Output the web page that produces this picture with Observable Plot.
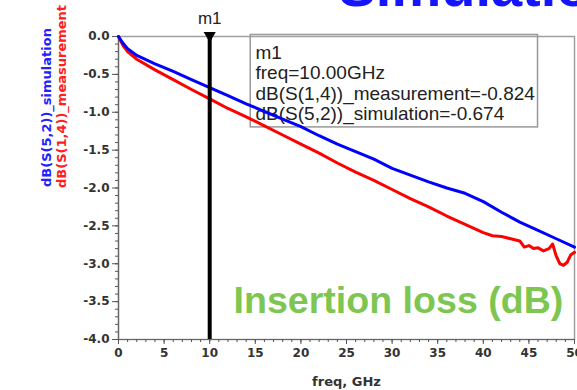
<!DOCTYPE html>
<html>
<head>
<meta charset="utf-8">
<script src="https://cdn.jsdelivr.net/npm/d3@7"></script>
<script src="https://cdn.jsdelivr.net/npm/@observablehq/plot@0.6"></script>
<style>
  html, body { margin: 0; padding: 0; background: #fff; }
  #chart svg { display: block; }
</style>
</head>
<body>
<div id="chart"></div>
<script>
// ---- data ----
const simFreq = [0, 0.5, 1, 2, 4, 6, 8, 10, 12, 14, 16, 18, 20, 22, 24, 26, 28, 30, 32, 34, 36, 38, 40, 42, 44, 46, 48, 50];
const simDb   = [0, -0.09, -0.16, -0.25, -0.36, -0.46, -0.57, -0.674, -0.78, -0.89, -0.99, -1.09, -1.19, -1.31, -1.42, -1.52, -1.62, -1.74, -1.83, -1.92, -2.00, -2.07, -2.18, -2.32, -2.45, -2.56, -2.67, -2.78];

const measFreq = [0, 0.5, 1, 2, 4, 6, 8, 10, 12, 14, 16, 18, 20, 22, 24, 26, 28, 30, 32, 34, 36, 38, 40, 41, 42, 43, 44, 44.5, 45, 45.5, 46, 46.6, 47.2, 47.6, 48, 48.4, 48.8, 49.2, 49.6, 50];
const measDb   = [0, -0.12, -0.20, -0.30, -0.44, -0.57, -0.70, -0.824, -0.95, -1.06, -1.18, -1.30, -1.42, -1.54, -1.67, -1.79, -1.90, -2.02, -2.14, -2.25, -2.37, -2.48, -2.59, -2.63, -2.64, -2.67, -2.70, -2.78, -2.76, -2.80, -2.79, -2.83, -2.80, -2.74, -2.90, -3.00, -3.02, -2.98, -2.88, -2.85];

const xTicks = [0, 5, 10, 15, 20, 25, 30, 35, 40, 45, 50];
const xTickLabels = ["0", "5", "10", "15", "20", "25", "30", "35", "40", "45", "50"];
const xMinorTicks = d3.range(0, 51, 1);
const yTicks = [0, -0.5, -1, -1.5, -2, -2.5, -3, -3.5, -4];
const yTickLabels = ["0.0", "-0.5", "-1.0", "-1.5", "-2.0", "-2.5", "-3.0", "-3.5", "-4.0"];
const yMinorTicks = d3.range(0, 41, 1).map(i => -i / 10);

const markerName = "m1";
const markerFreq = [10];
const markerMeas = -0.824;
const markerSim = -0.674;

const titleText = "Simulation";
const bannerText = "Insertion loss (dB)";
const xLabel = "freq, GHz";
const ySimLabel = "dB(S(5,2))_simulation";
const yMeasLabel = "dB(S(1,4))_measurement";

// ---- build tables ----
const sim = simFreq.map((f, i) => ({f, v: simDb[i]}));
const meas = measFreq.map((f, i) => ({f, v: measDb[i]}));
const markerLines = [
  markerName,
  `freq=${markerFreq[0].toFixed(2)}GHz`,
  `dB(S(1,4))_measurement=${markerMeas.toFixed(3)}`,
  `dB(S(5,2))_simulation=${markerSim.toFixed(3)}`
];

const tickFont = {fontFamily: "DejaVu Sans", fontWeight: "bold", fontSize: 12, fill: "#333"};

const chart = Plot.plot({
  width: 577,
  height: 390,
  marginLeft: 118,
  marginRight: 3,
  marginTop: 36,
  marginBottom: 51,
  x: {domain: [0, 50]},
  y: {domain: [-4, 0]},
  style: {background: "#fff", overflow: "visible"},
  marks: [
    // clipped title at top
    Plot.text([titleText], {frameAnchor: "top-left", dx: 220, dy: -31, textAnchor: "start", lineAnchor: "bottom",
      fontFamily: "Liberation Sans", fontWeight: "bold", fontSize: 56, fill: "#1414ff"}),
    // frame
    Plot.frame({stroke: "#a0a0a0", strokeWidth: 1.5}),
    Plot.ruleX([0], {stroke: "#666", strokeWidth: 1.2}),
    Plot.ruleY([-4], {stroke: "#666", strokeWidth: 1.2}),
    // minor ticks
    Plot.axisX(xMinorTicks, {anchor: "bottom", tickSize: 3, stroke: "#555", fill: "none", label: null}),
    Plot.axisY(yMinorTicks, {anchor: "left", tickSize: 3, stroke: "#555", fill: "none", label: null}),
    // major ticks + labels
    Plot.axisX(xTicks, {anchor: "bottom", tickSize: 5, tickPadding: 4, stroke: "#555",
      tickFormat: (d) => xTickLabels[xTicks.indexOf(d)], label: null, ...tickFont}),
    Plot.axisY(yTicks, {anchor: "left", tickSize: 6, tickPadding: 3, stroke: "#555",
      tickFormat: (d) => yTickLabels[yTicks.indexOf(d)], label: null, ...tickFont}),
    // axis titles
    Plot.text([xLabel], {frameAnchor: "bottom", dy: 42, lineAnchor: "middle",
      fontFamily: "DejaVu Sans", fontWeight: "bold", fontSize: 13, fill: "#333"}),
    Plot.text([ySimLabel], {frameAnchor: "left", dx: -72, dy: -1, rotate: -90, lineAnchor: "middle",
      fontFamily: "DejaVu Sans", fontWeight: "bold", fontSize: 13, fill: "#2222ff"}),
    Plot.text([yMeasLabel], {frameAnchor: "left", dx: -57, rotate: -90, lineAnchor: "middle",
      fontFamily: "DejaVu Sans", fontWeight: "bold", fontSize: 13, fill: "#ff2020"}),
    // marker readout box
    Plot.rect([0], {x1: 14.5, x2: 46, y1: 0.02, y2: -1.2, fill: "none", stroke: "#999", strokeWidth: 1.5}),
    Plot.text([markerLines.join("\n")], {frameAnchor: "top-left", dx: 137, dy: 7.5, textAnchor: "start", lineAnchor: "top",
      lineHeight: 1.08, fontFamily: "Liberation Sans", fontSize: 19, fill: "#222"}),
    // banner
    Plot.text([bannerText], {frameAnchor: "bottom-left", dx: 115, dy: -27, textAnchor: "start", lineAnchor: "bottom",
      fontFamily: "Liberation Sans", fontWeight: "bold", fontSize: 37.6, fill: "#7dc651"}),
    // curves
    Plot.line(meas, {x: "f", y: "v", stroke: "#ff0000", strokeWidth: 3, strokeLinejoin: "round"}),
    Plot.line(sim, {x: "f", y: "v", stroke: "#0000ff", strokeWidth: 3, strokeLinejoin: "round"}),
    // marker
    Plot.ruleX(markerFreq, {y1: -4, y2: 0, stroke: "#000", strokeWidth: 4}),
    Plot.dot(markerFreq, {x: (d) => d, y: () => 0, symbol: "triangle", rotate: 180, r: 4.5, fill: "#000", dy: -1}),
    Plot.text(markerFreq.map(() => markerName), {x: markerFreq, y: () => 0, dy: -18, lineAnchor: "middle",
      fontFamily: "Liberation Sans", fontSize: 17, fill: "#222"})
  ]
});

document.getElementById("chart").appendChild(chart);
</script>
</body>
</html>
